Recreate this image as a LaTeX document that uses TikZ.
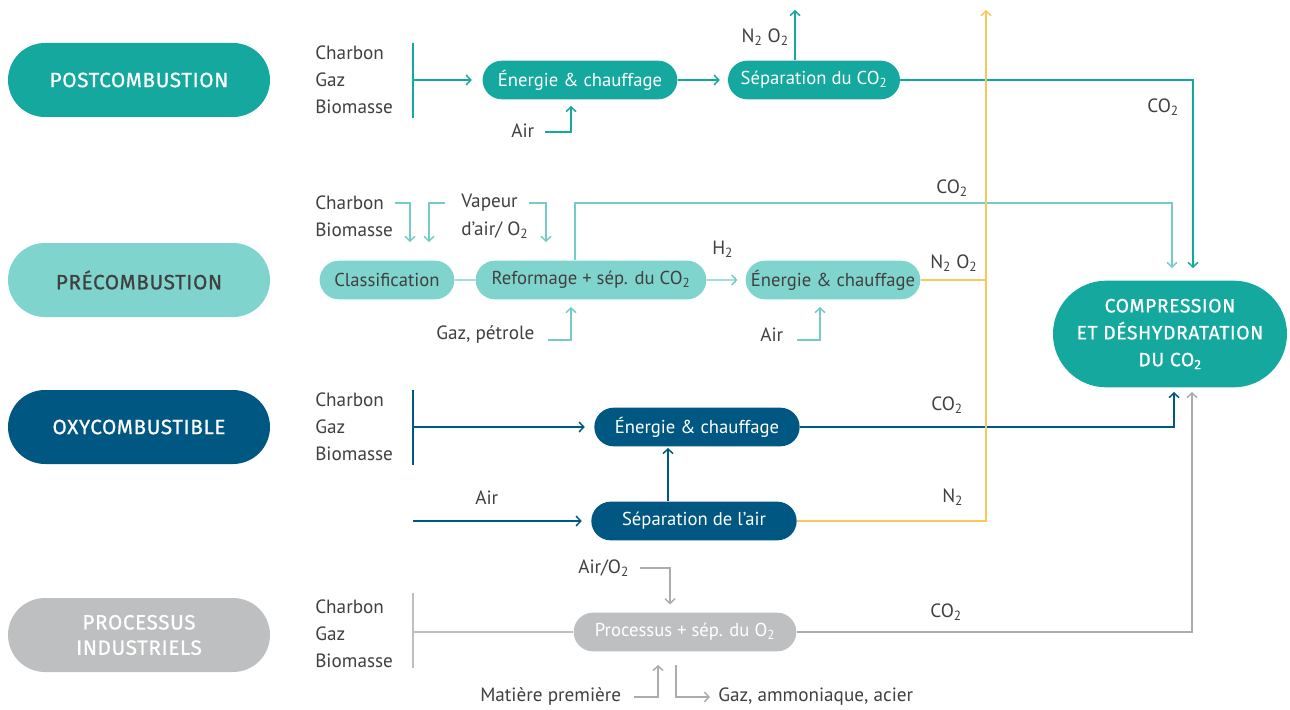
\documentclass[tikz,border=0pt]{standalone}
\usepackage{fontspec}
\setmainfont{PT Sans}
\newfontfamily\headfont[FakeBold=0.8,LetterSpace=3]{Fira Sans}
\usetikzlibrary{shapes.misc,arrows.meta}
\definecolor{tealc}{RGB}{20,168,158}
\definecolor{lteal}{RGB}{128,212,206}
\definecolor{lline}{RGB}{115,205,198}
\definecolor{dblue}{RGB}{0,88,130}
\definecolor{grayc}{RGB}{190,191,193}
\definecolor{grayl}{RGB}{172,172,175}
\definecolor{orangec}{RGB}{250,200,90}
\definecolor{txt}{RGB}{64,64,64}
\newcommand\dsub[1]{\textsubscript{#1}}
\begin{document}
\begin{tikzpicture}[x=0.75pt,y=-0.75pt,
 font=\fontsize{14.4}{16}\selectfont,
 lbl/.style={text=txt, anchor=west, inner sep=0pt},
 cat/.style={rounded rectangle, minimum width=196.5pt, minimum height=55.5pt, inner sep=0pt, font=\headfont\fontsize{15.5}{19}\selectfont, align=center},
 proc/.style={rounded rectangle, minimum height=29pt, inner sep=0pt, font=\fontsize{14}{16}\selectfont},
 ln/.style={line width=1.1pt},
 arr/.style={ln,-{Straight Barb[length=3.5pt,width=7.5pt]}}]
\useasboundingbox[fill=white] (0,0) rectangle (1290,710);

% category pills
\node[cat, fill=tealc, text=white] (post) at (139,80) {POSTCOMBUSTION};
\node[cat, fill=lteal, text=txt] (pre) at (139,280) {PRÉCOMBUSTION};
\node[cat, fill=dblue, text=white] (oxy) at (139,427) {OXYCOMBUSTIBLE};
\node[cat, fill=grayc, text=white] (ind) at (139,635) {PROCESSUS\\INDUSTRIELS};

% compression
\node[rounded rectangle, fill=tealc, text=white, minimum width=175.5pt, minimum height=80pt, inner sep=0pt, align=center, font=\headfont\fontsize{14.5}{20.2}\selectfont] (comp) at (1170,334) {COMPRESSION\\ET DÉSHYDRATATION\\DU CO\dsub{2}};

% ---------- row 1
\node[lbl] (c1a) at (315,53) {Charbon};
\node[lbl] (c1b) at (315,80) {Gaz};
\node[lbl] (c1c) at (315,107) {Biomasse};
\node[proc, fill=tealc, text=white, minimum width=146pt] (e1) at (580,80) {Énergie \& chauffage};
\node[proc, fill=tealc, text=white, minimum width=129pt] (s1) at (814,80) {Séparation du CO\dsub{2}};
\node[lbl] (air1) at (511,131) {Air};
\node[lbl,anchor=east] (n1) at (789,37) {N\dsub{2} O\dsub{2}};
\node[lbl] (co1) at (1147,107) {CO\dsub{2}};
\coordinate (b1t) at (413,43);
\coordinate (b1b) at (413,118);
\coordinate (b1m) at (413,80);
\coordinate (n1t) at (795,10);
\coordinate (c1k) at (1193,80);
\coordinate (c1e) at (1193,268);
\coordinate (a1s) at (545,132);
\coordinate (a1k) at (571,132);
\coordinate (a1e) at (571,106);
\draw[ln,tealc] (b1t) -- (b1b);
\draw[arr,tealc,shorten >=8pt] (b1m) -- (e1.west);
\draw[arr,tealc,shorten >=6pt] (e1.east) -- (s1.west);
\draw[arr,tealc] (s1.north -| n1t) -- (n1t);
\draw[arr,tealc] (s1.east) -- (c1k) -- (c1e);
\draw[arr,tealc] (a1s) -- (a1k) -- (a1e);

% ---------- row 2
\node[lbl] (c2a) at (315,203) {Charbon};
\node[lbl] (c2b) at (315,230) {Biomasse};
\node[lbl] (v2a) at (461,203) {Vapeur};
\node[lbl] (v2b) at (461,230) {d'air/ O\dsub{2}};
\node[proc, fill=lteal, text=txt, minimum width=101pt] (cl) at (387,280) {Classification};
\node[proc, fill=lteal, text=txt, minimum width=173pt] (rf) at (591,280) {Reformage + sép. du CO\dsub{2}};
\node[proc, fill=lteal, text=txt, minimum width=131pt] (e2) at (833,280) {Énergie \& chauffage};
\node[lbl] (h2) at (712,249) {H\dsub{2}};
\node[lbl] (n2) at (930,263) {N\dsub{2} O\dsub{2}};
\node[lbl] (co2) at (936,188) {CO\dsub{2}};
\node[lbl] (gp) at (436,335) {Gaz, pétrole};
\node[lbl] (air2) at (760,335) {Air};
\coordinate (k1s) at (395,203);
\coordinate (k1) at (410,203);
\coordinate (k1e) at (410,242);
\coordinate (k2s) at (445,203);
\coordinate (k2) at (429,203);
\coordinate (k2e) at (429,242);
\coordinate (k3s) at (529,203);
\coordinate (k3) at (546,203);
\coordinate (k3e) at (546,242);
\coordinate (r1) at (575,203);
\coordinate (r2) at (1172,203);
\coordinate (r2e) at (1172,268);
\coordinate (g1s) at (548,340);
\coordinate (g1) at (571,340);
\coordinate (g1e) at (571,307);
\coordinate (g2s) at (797,340);
\coordinate (g2) at (820,340);
\coordinate (g2e) at (820,307);
\coordinate (ov) at (986,280);
\coordinate (otop) at (986,10);
\draw[ln,lline] (cl) -- (rf);
\draw[arr,lline,shorten >=6pt] (rf) -- (e2);
\draw[arr,lline] (k1s) -- (k1) -- (k1e);
\draw[arr,lline] (k2s) -- (k2) -- (k2e);
\draw[arr,lline] (k3s) -- (k3) -- (k3e);
\draw[arr,lline] (rf.north -| r1) -- (r1) -- (r2) -- (r2e);
\draw[arr,lline] (g1s) -- (g1) -- (g1e);
\draw[arr,lline] (g2s) -- (g2) -- (g2e);

% ---------- row 3
\node[lbl] (c3a) at (315,400) {Charbon};
\node[lbl] (c3b) at (315,427) {Gaz};
\node[lbl] (c3c) at (315,454) {Biomasse};
\node[proc, fill=dblue, text=white, minimum width=154pt] (e3) at (697,427) {Énergie \& chauffage};
\node[proc, fill=dblue, text=white, minimum width=154pt] (sa) at (694,521) {Séparation de l'air};
\node[lbl] (air3) at (475,498) {Air};
\node[lbl] (co3) at (931,405) {CO\dsub{2}};
\node[lbl] (n3) at (942,497) {N\dsub{2}};
\coordinate (b3t) at (413,390);
\coordinate (b3b) at (413,465);
\coordinate (b3m) at (413,427);
\coordinate (a3s) at (413,521);
\coordinate (u3) at (668,470);
\coordinate (x3) at (1174,427);
\coordinate (x3e) at (1174,392);
\coordinate (o3) at (986,521);
\draw[ln,dblue] (b3t) -- (b3b);
\draw[arr,dblue,shorten >=7pt] (b3m) -- (e3.west);
\draw[arr,dblue,shorten >=7pt] (a3s) -- (sa.west);
\draw[arr,dblue,shorten >=1pt] (sa.north -| u3) -- (e3.south -| u3);
\draw[arr,dblue] (e3.east) -- (x3) -- (x3e);
\draw[ln,orangec] (e2.east) -- (ov);
\draw[arr,orangec] (sa.east) -- (o3) -- (otop);

% ---------- row 4
\node[lbl] (c4a) at (315,607) {Charbon};
\node[lbl] (c4b) at (315,634) {Gaz};
\node[lbl] (c4c) at (315,661) {Biomasse};
\node[proc, fill=grayc, text=white, minimum width=167pt] (pr) at (685,632) {Processus + sép. du O\dsub{2}};
\node[lbl] (co4) at (930,612) {CO\dsub{2}};
\node[lbl] (ao) at (578,568) {Air/O\dsub{2}};
\node[lbl] (mp) at (480,697) {Matière première};
\node[lbl] (gaa) at (718,697) {Gaz, ammoniaque, acier};
\coordinate (b4t) at (413,593);
\coordinate (b4b) at (413,668);
\coordinate (b4m) at (413,632);
\coordinate (x4) at (1192,632);
\coordinate (x4e) at (1192,392);
\coordinate (ao1s) at (640,568);
\coordinate (ao1) at (670,568);
\coordinate (mp1s) at (634,697);
\coordinate (mp1) at (658,697);
\coordinate (go1) at (676,665);
\coordinate (go2) at (676,697);
\coordinate (go3) at (710,697);
\draw[ln,grayc] (b4t) -- (b4b);
\draw[ln,grayc] (b4m) -- (pr.west);
\draw[arr,grayl] (pr.east) -- (x4) -- (x4e);
\draw[arr,grayl,shorten >=6pt] (ao1s) -- (ao1) -- (pr.north -| ao1);
\draw[arr,grayl,shorten >=10pt] (mp1s) -- (mp1) -- (pr.south -| mp1);
\draw[arr,grayl] (go1) -- (go2) -- (go3);
\end{tikzpicture}
\end{document}
